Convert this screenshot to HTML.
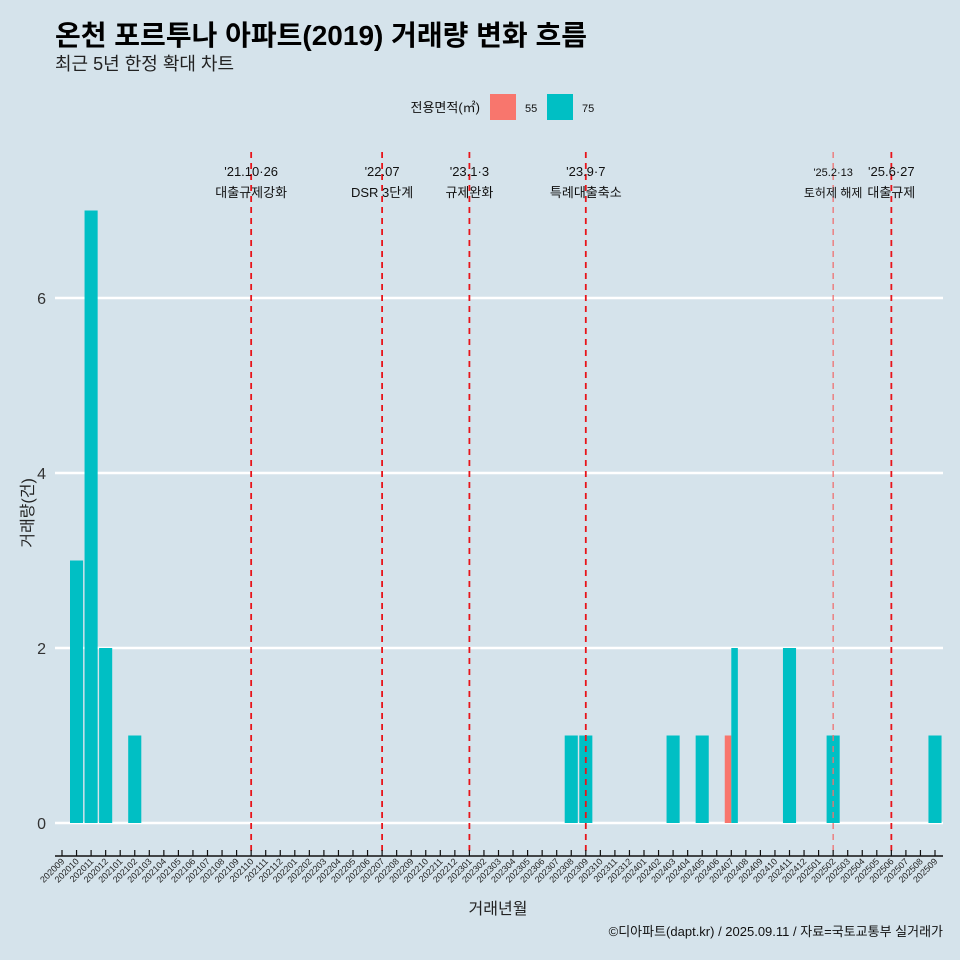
<!DOCTYPE html>
<html><head><meta charset="utf-8">
<style>
html,body{margin:0;padding:0;background:#d5e3eb;}
svg{display:block;font-family:"Liberation Sans","Noto Sans CJK KR",sans-serif;}
</style></head>
<body>
<svg id="chart" width="960" height="960" viewBox="0 0 960 960">
<rect width="960" height="960" fill="#d5e3eb"/>
<text x="55" y="45" font-size="28" font-weight="bold" fill="#000">온천 포르투나 아파트(2019) 거래량 변화 흐름</text>
<text x="55" y="70" font-size="18" fill="#222">최근 5년 한정 확대 차트</text>
<g>
<text x="480" y="112" font-size="13" text-anchor="end" fill="#111">전용면적(㎡)</text>
<rect x="490" y="94" width="26" height="26" fill="#f8766d"/>
<text x="525" y="112" font-size="11" fill="#111">55</text>
<rect x="547" y="94" width="26" height="26" fill="#00bfc4"/>
<text x="582" y="112" font-size="11" fill="#111">75</text>
</g>
<g id="grid"></g>
<g id="bars"></g>
<g id="events"></g>
<g id="axes"></g>
<text transform="translate(33,513) rotate(-90)" font-size="16" text-anchor="middle" fill="#222">거래량(건)</text>
<text x="498" y="914" font-size="16" text-anchor="middle" fill="#222">거래년월</text>
<text x="943" y="936" font-size="13" text-anchor="end" fill="#111">©디아파트(dapt.kr) / 2025.09.11 / 자료=국토교통부 실거래가</text>
</svg>
<script>
const months = (function(){const a=[];let y=2020,m=9;while(y<2025||(y===2025&&m<=9)){a.push(String(y)+String(m).padStart(2,'0'));m++;if(m>12){m=1;y++;}}return a;})();
const seriesA_months = ["202407"];
const seriesA_values = [1];
const seriesB_months = ["202010","202011","202012","202102","202308","202309","202403","202405","202407","202411","202502","202509"];
const seriesB_values = [3,7,2,1,1,1,1,1,2,2,1,1];
const yTicks = [0,2,4,6];
const eventMonths = ["202110","202207","202301","202309","202502","202506"];
const eventDates = ["'21.10·26","'22.07","'23.1·3","'23.9·7","'25.2·13","'25.6·27"];
const eventNotes = ["대출규제강화","DSR 3단계","규제완화","특례대출축소","토허제 해제","대출규제"];

const NS="http://www.w3.org/2000/svg";
const x0=62, x1=935, step=(x1-x0)/(months.length-1);
function xPos(mo){return x0+months.indexOf(mo)*step;}
function yPos(v){return 823-v*87.5;}
function mk(tag,attrs,parent){const e=document.createElementNS(NS,tag);for(const k in attrs)e.setAttribute(k,attrs[k]);parent.appendChild(e);return e;}
const grid=document.getElementById('grid'),bars=document.getElementById('bars'),ev=document.getElementById('events'),axes=document.getElementById('axes');

yTicks.forEach(v=>{
  const l=mk('line',{x1:55,x2:943,y1:yPos(v),y2:yPos(v),stroke:'#fff','stroke-width':2.5},grid);
  
  
  const t=mk('text',{x:46,y:yPos(v)+6,'font-size':16,'text-anchor':'end',fill:'#333'},axes);
  t.textContent=v;
  
  
});

const bw=step*0.9;
const bothMonths=seriesA_months.filter(m=>seriesB_months.includes(m));
seriesA_months.forEach((mo,i)=>{
  const dodge=bothMonths.includes(mo);
  const w=dodge?bw/2:bw, x=xPos(mo)-bw/2;
  const r=mk('rect',{x:x,y:yPos(seriesA_values[i]),width:w,height:yPos(0)-yPos(seriesA_values[i]),fill:'#f8766d'},bars);
  
  
});
seriesB_months.forEach((mo,i)=>{
  const dodge=bothMonths.includes(mo);
  const w=dodge?bw/2:bw, x=dodge?xPos(mo):xPos(mo)-bw/2;
  const r=mk('rect',{x:x,y:yPos(seriesB_values[i]),width:w,height:yPos(0)-yPos(seriesB_values[i]),fill:'#00bfc4'},bars);
  
  
});

eventMonths.forEach((mo,i)=>{
  const x=xPos(mo); const light=(mo==="202502");
  const l=mk('line',{x1:x,x2:x,y1:152,y2:856,stroke:light?'#f07070':'#e8141a','stroke-width':light?1.3:1.8,'stroke-dasharray':'6,5'},ev);
  
  
  const t1=mk('text',{x:x,y:176,'font-size':light?11:13,'text-anchor':'middle',fill:'#111'},ev);
  t1.textContent=eventDates[i];
  
  
  const t2=mk('text',{x:x,y:197,'font-size':light?12:13,'text-anchor':'middle',fill:'#111'},ev);
  t2.textContent=eventNotes[i];
  
  
});

const ax=mk('line',{x1:55,x2:943,y1:856,y2:856,stroke:'#111','stroke-width':1.5},axes);


months.forEach(mo=>{
  const x=xPos(mo);
  const tk=mk('line',{x1:x,x2:x,y1:850,y2:856,stroke:'#111','stroke-width':1.2},axes);
  
  
  const t=mk('text',{transform:`translate(${x+3},862) rotate(-45)`,'font-size':9,'text-anchor':'end',fill:'#222'},axes);
  t.textContent=mo;
  
  
});
</script>
</body></html>
